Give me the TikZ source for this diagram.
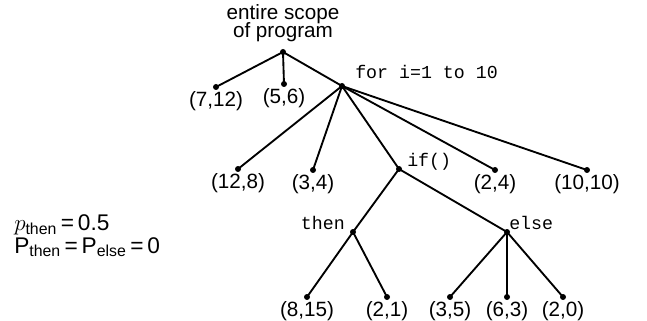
\documentclass[tikz,border=0pt]{standalone}
\usepackage{amsmath}
\usepackage{fontspec}
\setmainfont{Liberation Sans}
\setmonofont{Liberation Mono}
\usepackage{tikz}
\usetikzlibrary{positioning}

\tikzset{
  dot/.style={circle, fill=black, inner sep=0pt, minimum size=4.5pt},
  edge/.style={line width=1.4pt},
  val/.style={inner sep=0pt, font=\fontsize{15.5}{17}\selectfont},
  code/.style={inner sep=0pt, font=\ttfamily\fontsize{13.7}{15}\selectfont}
}

\begin{document}
\begin{tikzpicture}[x=0.75pt, y=-0.75pt]
\useasboundingbox (0,0) rectangle (647,321);

% Root and loop
\node[dot] (r) at (283,52) {};
\node[dot] (f) at (342,86) {};
\node[dot] (i) at (399,169) {};
\node[dot] (t) at (353,232) {};
\node[dot] (s) at (507,232) {};

\node[val, align=center] (scope) at (283,23) {entire scope\\[-3pt]of program};
\node[code, anchor=west] (lf) at (355,72) {for i=1 to 10};
\node[code, anchor=west] (li) at (407,162) {if()};
\node[code, anchor=east] (lt) at (345,223) {then};
\node[code, anchor=west] (ls) at (509,223) {else};

% Leaves
\foreach \n/\x/\y/\t in {a/216/87/{(7,12)}, b/284/84/{(5,6)},
    c/238/169/{(12,8)}, d/313/170/{(3,4)}, e/495/170/{(2,4)}, g/587/170/{(10,10)},
    h/307/297/{(8,15)}, j/387/297/{(2,1)},
    k/450/297/{(3,5)}, m/507/297/{(6,3)}, n/563/297/{(2,0)}} {
    \node[dot] (\n) at (\x,\y) {};
    \node[val, below=0.5pt of \n] (l\n) {\t};
}

% Edges
\foreach \p/\c in {r/a, r/b, r/f, f/c, f/d, f/i, f/e, f/g, i/t, i/s, t/h, t/j, s/k, s/m, s/n} {
    \draw[edge] (\p.center) -- (\c.center);
}

% Probabilities
\node[val, align=left, anchor=west, font=\fontsize{17}{19}\selectfont] (prob) at (14,236)
  {$p_{\text{then}}$\,=\,0.5\\[-2pt]P$_{\text{then}}$\,=\,P$_{\text{else}}$\,=\,0};
\end{tikzpicture}
\end{document}
